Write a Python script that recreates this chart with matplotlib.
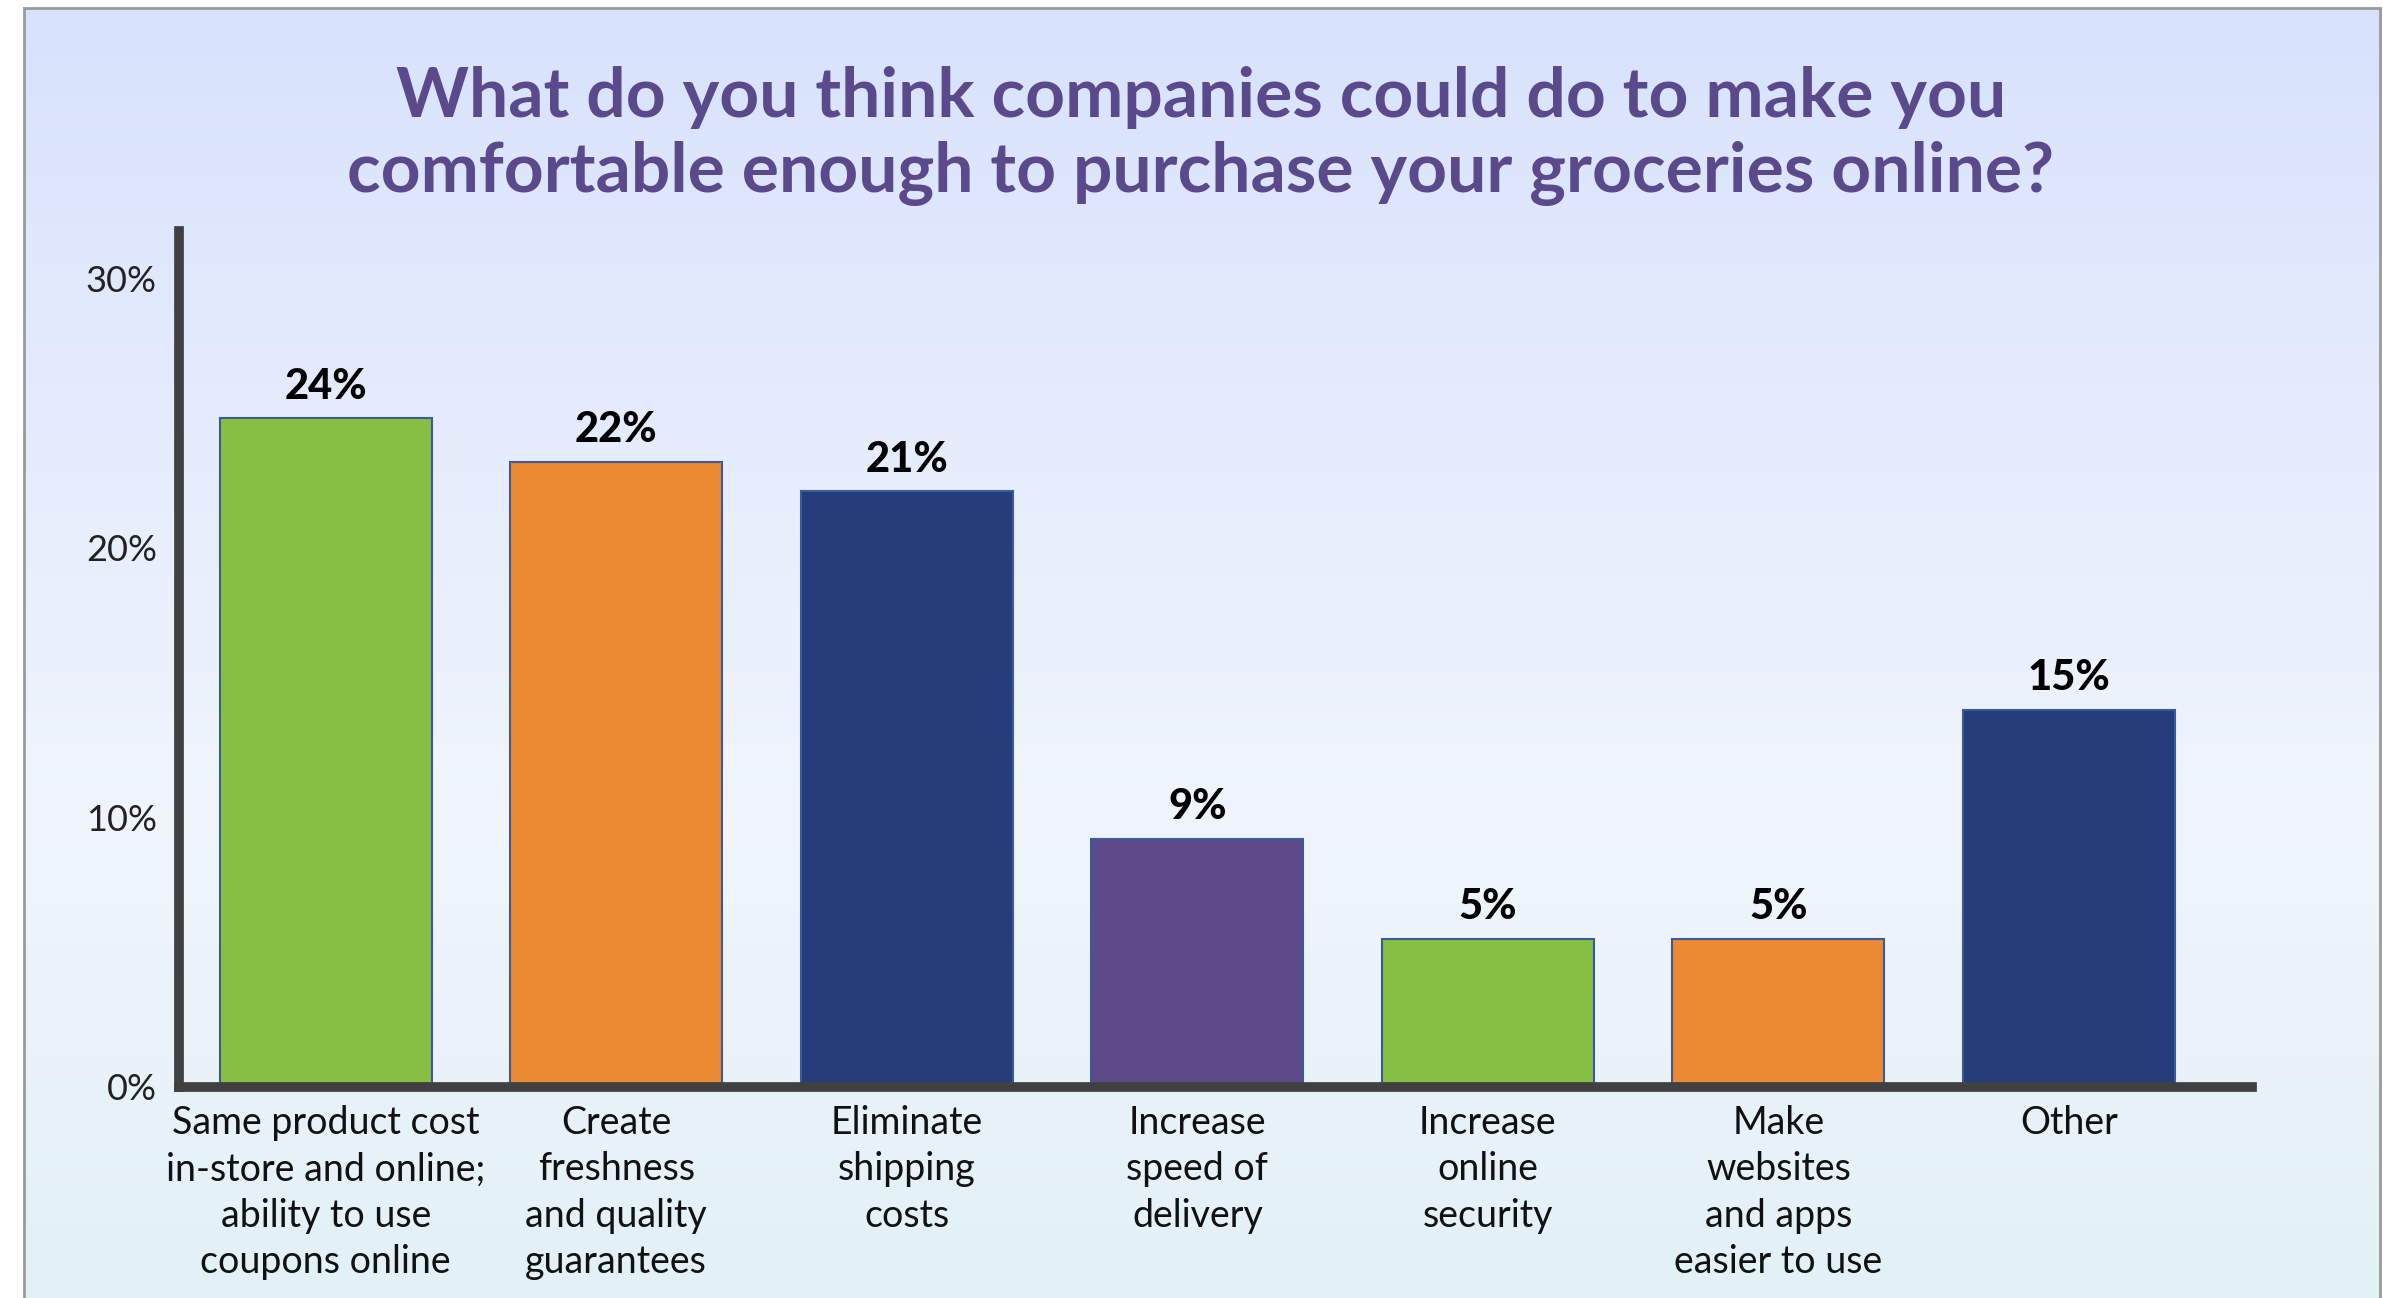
import numpy as np
import matplotlib
matplotlib.use("Agg")
import matplotlib.pyplot as plt
from matplotlib.colors import LinearSegmentedColormap

plt.rcParams['font.family'] = ['Lato', 'DejaVu Sans']

# data
categories = ["Same product cost\nin-store and online;\nability to use\ncoupons online",
              "Create\nfreshness\nand quality\nguarantees",
              "Eliminate\nshipping\ncosts",
              "Increase\nspeed of\ndelivery",
              "Increase\nonline\nsecurity",
              "Make\nwebsites\nand apps\neasier to use",
              "Other"]
heights = [24.8, 23.2, 22.1, 9.2, 5.5, 5.5, 14.0]
value_labels = ["24%", "22%", "21%", "9%", "5%", "5%", "15%"]
bar_colors = ["#86bf41", "#eb8a33", "#273c7a", "#5c4a8b", "#86bf41", "#eb8a33", "#273c7a"]
yticks = [0, 10, 20, 30]
title = "What do you think companies could do to make you\ncomfortable enough to purchase your groceries online?"

W, H = 2383, 1298
fig = plt.figure(figsize=(W / 100, H / 100), dpi=100)

# gradient panel with grey frame
bg = fig.add_axes([24 / W, 0, (2380 - 24) / W, (H - 8) / H])
cmap = LinearSegmentedColormap.from_list("bg", [(0, "#d8e2fc"), (0.62, "#f0f5fc"), (1, "#e2f1f6")])
bg.imshow(np.linspace(0, 1, 256).reshape(-1, 1), aspect="auto", cmap=cmap,
          extent=[0, 1, 1, 0])
bg.set_xticks([])
bg.set_yticks([])
for s in ["left", "top", "right"]:
    bg.spines[s].set_color("#9a9a9a")
    bg.spines[s].set_linewidth(2)
bg.spines["bottom"].set_visible(False)

fig.text(0.504, 0.8955, title, ha="center", va="center", fontsize=50,
         fontweight="bold", color="#5b4a8b", linespacing=1.24)

ax = fig.add_axes([179 / W, (H - 1087) / H, (2252 - 179) / W, (1087 - 231) / H])
ax.patch.set_alpha(0)
x = np.arange(len(categories))
bars = ax.bar(x, heights, width=0.73, color=bar_colors, edgecolor="#3a5a9c", linewidth=1.5)
for b, lab in zip(bars, value_labels):
    ax.annotate(lab, (b.get_x() + b.get_width() / 2, b.get_height()),
                xytext=(0, 9), textcoords="offset points", ha="center", va="bottom",
                fontsize=30, fontweight="black", color="black")

ax.set_xlim(-0.505, 6.63)
ax.set_ylim(0, 31.75)
ax.set_yticks(yticks)
ax.set_yticklabels([f"{v}%" for v in yticks])
ax.set_xticks(x)
ax.set_xticklabels(categories, linespacing=1.36)
ax.tick_params(axis="y", length=0, pad=16, labelsize=26, labelcolor="#222222")
ax.tick_params(axis="x", length=0, pad=13, labelsize=27, labelcolor="#111111")
for s in ["top", "right"]:
    ax.spines[s].set_visible(False)
for s in ["left", "bottom"]:
    ax.spines[s].set_color("#404040")
    ax.spines[s].set_linewidth(7)
    ax.spines[s].set_capstyle("projecting")

fig.savefig("out.png", dpi=100)
